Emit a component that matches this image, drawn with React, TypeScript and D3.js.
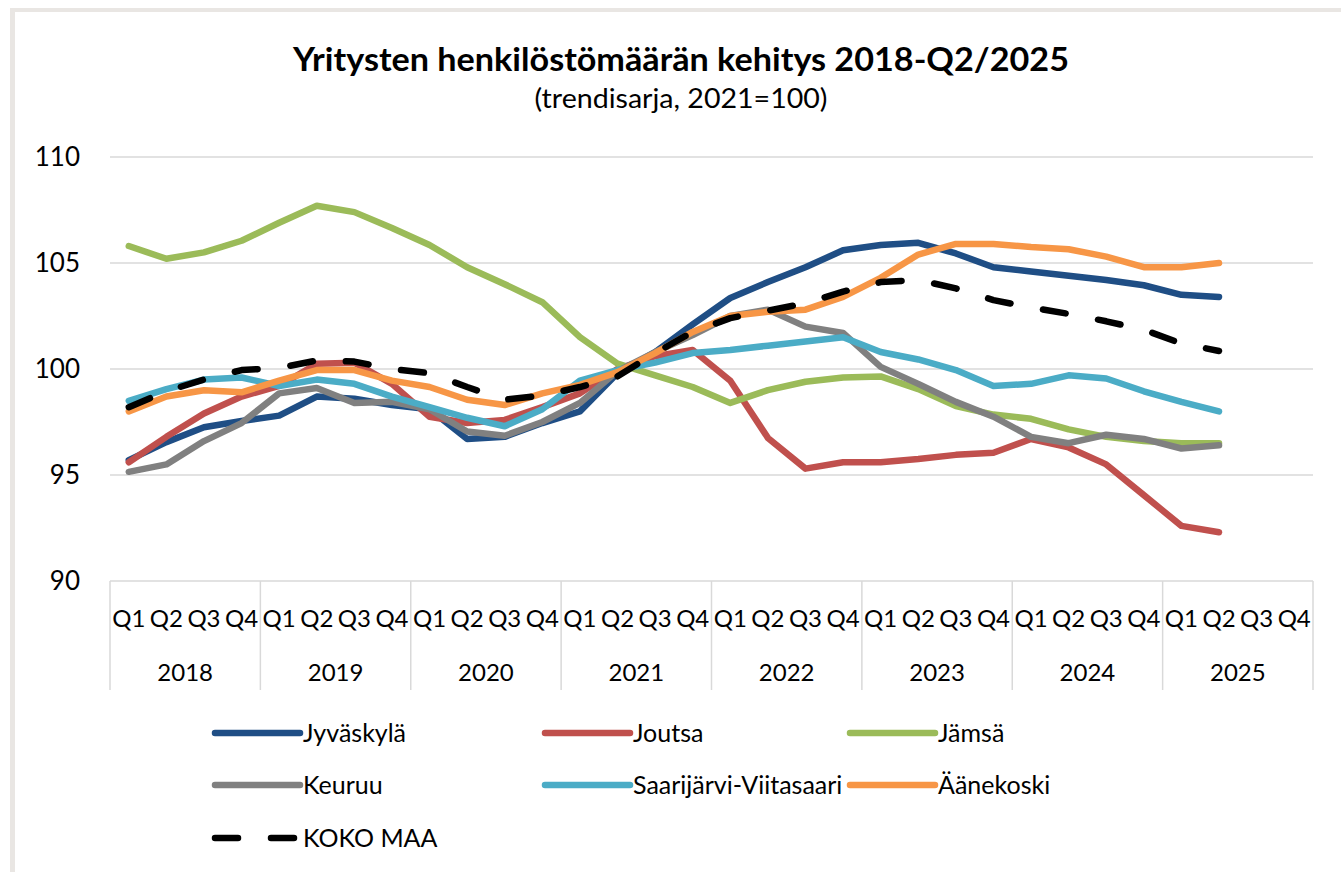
import React from "react";
import * as d3 from "d3";

const years = ["2018", "2019", "2020", "2021", "2022", "2023", "2024", "2025"];
const quarters = ["Q1", "Q2", "Q3", "Q4"];
const yTicks = [90, 95, 100, 105, 110];

const jyvaskyla = [95.7, 96.55, 97.25, 97.55, 97.8, 98.7, 98.6, 98.3, 98.1, 96.7, 96.8, 97.45, 98.0, 99.8, 100.8, 102.1, 103.35, 104.1, 104.8, 105.6, 105.85, 105.95, 105.45, 104.8, 104.6, 104.4, 104.2, 103.95, 103.5, 103.4];
const joutsa = [95.6, 96.8, 97.9, 98.7, 99.2, 100.25, 100.3, 99.3, 97.75, 97.45, 97.6, 98.2, 98.85, 100.0, 100.6, 100.9, 99.45, 96.75, 95.3, 95.6, 95.6, 95.75, 95.95, 96.05, 96.7, 96.3, 95.5, 94.05, 92.6, 92.3];
const jamsa = [105.8, 105.2, 105.5, 106.05, 106.9, 107.7, 107.4, 106.65, 105.85, 104.8, 104.0, 103.15, 101.5, 100.25, 99.7, 99.15, 98.4, 99.0, 99.4, 99.6, 99.65, 99.05, 98.25, 97.85, 97.65, 97.15, 96.8, 96.6, 96.5, 96.5];
const keuruu = [95.15, 95.5, 96.6, 97.45, 98.85, 99.1, 98.4, 98.45, 98.1, 97.05, 96.85, 97.5, 98.4, 99.9, 100.8, 101.6, 102.5, 102.8, 102.0, 101.7, 100.1, 99.3, 98.45, 97.75, 96.8, 96.5, 96.9, 96.7, 96.25, 96.4];
const saarijarvi = [98.5, 99.05, 99.5, 99.6, 99.2, 99.5, 99.3, 98.7, 98.2, 97.7, 97.3, 98.1, 99.45, 99.95, 100.3, 100.75, 100.9, 101.1, 101.3, 101.5, 100.8, 100.45, 99.95, 99.2, 99.3, 99.7, 99.55, 98.95, 98.45, 98.0];
const aanekoski = [98.0, 98.7, 99.0, 98.9, 99.45, 99.95, 99.95, 99.45, 99.15, 98.55, 98.3, 98.85, 99.25, 99.85, 100.75, 101.75, 102.5, 102.7, 102.8, 103.4, 104.3, 105.4, 105.9, 105.9, 105.75, 105.65, 105.3, 104.8, 104.8, 105.0];
const kokoMaa = [98.2, 98.95, 99.5, 99.95, 100.05, 100.4, 100.35, 100.0, 99.8, 99.15, 98.55, 98.75, 99.15, 99.65, 100.75, 101.75, 102.4, 102.75, 103.1, 103.65, 104.1, 104.2, 103.8, 103.25, 102.9, 102.6, 102.25, 101.85, 101.2, 100.85];

const seriesNames = ["Jyväskylä", "Joutsa", "Jämsä", "Keuruu", "Saarijärvi-Viitasaari", "Äänekoski", "KOKO MAA"];
const seriesValues = [jyvaskyla, joutsa, jamsa, keuruu, saarijarvi, aanekoski, kokoMaa];
const seriesColors = ["#1F4E85", "#C0504D", "#9BBB59", "#808080", "#4BACC6", "#F79646", "#000000"];
const seriesDashed = [false, false, false, false, false, false, true];

const W = 1341;
const H = 872;
const FONT = "Lato, 'Open Sans', sans-serif";
const plotLeft = 110;
const plotRight = 1313;
const plotTop = 157;
const plotBottom = 581;
const axisBottom = 690;
const gridColor = "#D9D9D9";

const legendCols = [215, 545, 850];
const legendRows = [733, 785, 838];
const legendLineLen = 85;

export default function App() {
  const cats = years.flatMap((yr) => quarters.map((q) => `${yr}-${q}`));
  const x = d3.scaleBand<string>().domain(cats).range([plotLeft, plotRight]).padding(0);
  const y = d3.scaleLinear().domain([90, 110]).range([plotBottom, plotTop]);
  const line = d3
    .line<number>()
    .x((_, i) => (x(cats[i]) as number) + x.bandwidth() / 2)
    .y((d) => y(d));

  const yearWidth = x.bandwidth() * 4;

  return (
    <svg
      width={W}
      height={H}
      viewBox={`0 0 ${W} ${H}`}
      style={{ position: "absolute", left: 0, top: 0, background: "#fff" }}
    >
      <rect x={0} y={0} width={W} height={H} fill="#fff" />
      {/* frame */}
      <rect x={10} y={8} width={W - 10} height={4} fill="#E9E6E3" />
      <rect x={10} y={8} width={5} height={H - 8} fill="#E9E6E3" />

      {/* title */}
      <text x={681} y={71} textAnchor="middle" fontFamily={FONT} fontWeight={700} fontSize={32} fill="#000" textLength={776} lengthAdjust="spacingAndGlyphs">
        Yritysten henkilöstömäärän kehitys 2018-Q2/2025
      </text>
      <text x={681} y={108} textAnchor="middle" fontFamily={FONT} fontSize={26} fill="#000" textLength={293} lengthAdjust="spacingAndGlyphs">
        (trendisarja, 2021=100)
      </text>

      {/* gridlines */}
      {yTicks.map((t) => (
        <line key={t} x1={plotLeft} x2={plotRight} y1={y(t)} y2={y(t)} stroke={gridColor} strokeWidth={1.5} />
      ))}
      {/* y labels */}
      {yTicks.map((t) => (
        <text key={"l" + t} x={80} y={y(t)} dy="0.36em" textAnchor="end" fontFamily={FONT} fontSize={26} fill="#000">
          {t}
        </text>
      ))}

      {/* category axis box */}
      {years.map((yr, i) => (
        <line
          key={"v" + yr}
          x1={plotLeft + i * yearWidth}
          x2={plotLeft + i * yearWidth}
          y1={plotBottom}
          y2={axisBottom}
          stroke={gridColor}
          strokeWidth={1.5}
        />
      ))}
      <line x1={plotRight} x2={plotRight} y1={plotBottom} y2={axisBottom} stroke={gridColor} strokeWidth={1.5} />
      {cats.map((c) => (
        <text
          key={"q" + c}
          x={(x(c) as number) + x.bandwidth() / 2}
          y={618}
          dy="0.36em"
          textAnchor="middle"
          fontFamily={FONT}
          fontSize={24}
          fill="#000"
        >
          {c.split("-")[1]}
        </text>
      ))}
      {years.map((yr, i) => (
        <text
          key={"y" + yr}
          x={plotLeft + i * yearWidth + yearWidth / 2}
          y={672}
          dy="0.36em"
          textAnchor="middle"
          fontFamily={FONT}
          fontSize={24}
          fill="#000"
        >
          {yr}
        </text>
      ))}

      {/* series */}
      {seriesValues.map((vals, i) => (
        <path
          key={seriesNames[i]}
          d={line(vals) as string}
          fill="none"
          stroke={seriesColors[i]}
          strokeWidth={6.5}
          strokeLinejoin="round"
          strokeLinecap="round"
          strokeDasharray={seriesDashed[i] ? "23 33" : undefined}
        />
      ))}

      {/* legend */}
      {seriesNames.map((name, i) => {
        const lx = legendCols[i % 3];
        const ly = legendRows[Math.floor(i / 3)];
        return (
          <g key={"lg" + name}>
            <line
              x1={lx}
              x2={lx + legendLineLen}
              y1={ly}
              y2={ly}
              stroke={seriesColors[i]}
              strokeWidth={6.5}
              strokeLinecap="round"
              strokeDasharray={seriesDashed[i] ? "23 33" : undefined}
            />
            <text x={lx + legendLineLen + 3} y={ly} dy="0.36em" fontFamily={FONT} fontSize={25} fill="#000">
              {name}
            </text>
          </g>
        );
      })}
    </svg>
  );
}
